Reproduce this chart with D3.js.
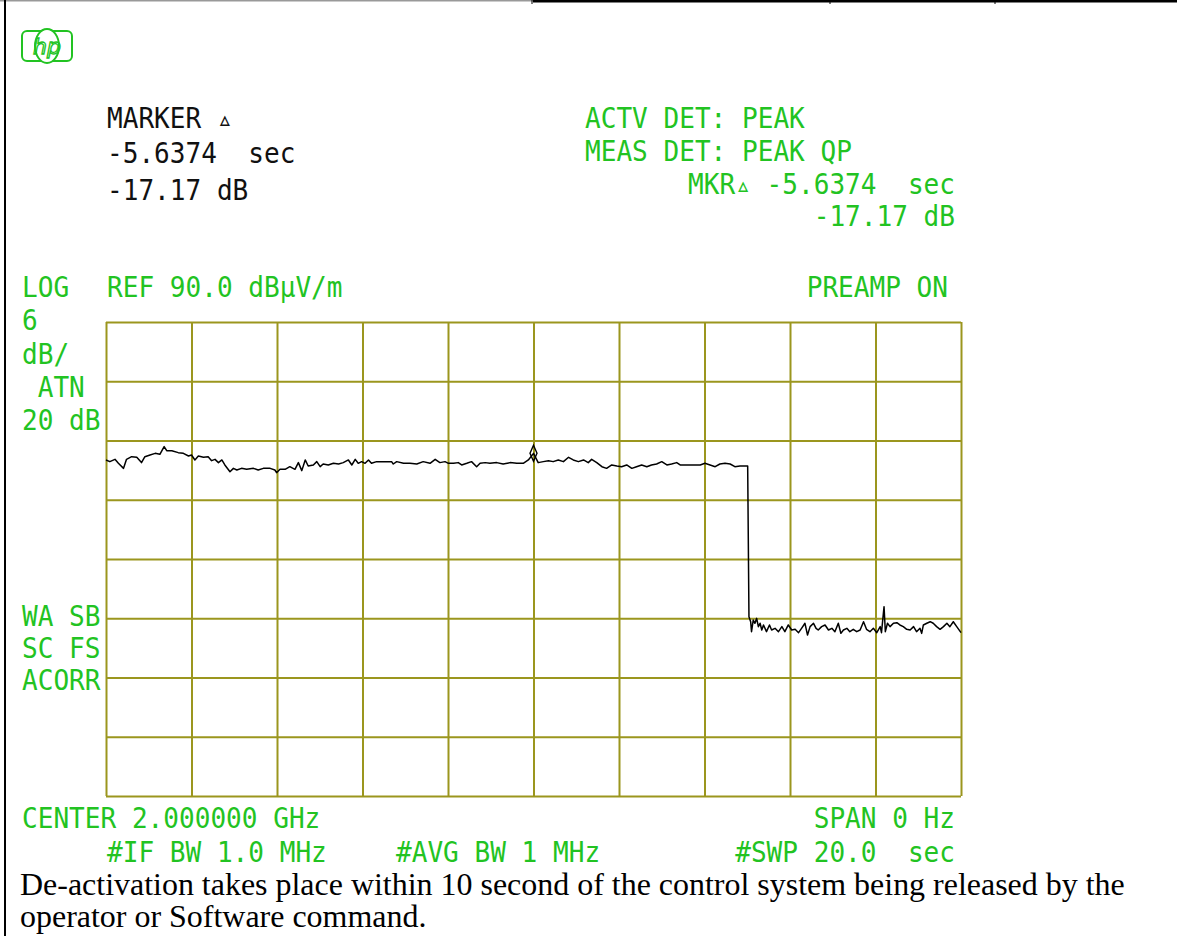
<!DOCTYPE html>
<html>
<head>
<meta charset="utf-8">
<script src="https://cdn.jsdelivr.net/npm/d3@7"></script>
<style>
  body { margin: 0; background: #fff; }
  svg text { white-space: pre; }
</style>
</head>
<body>
<div id="chart"></div>
<script>
// Sweep settings (0 Hz span, 20 s sweep, 90 dBuV/m ref, 6 dB/div, 8 divs)
const SWEEP_TIME = 20;
const REF_LEVEL = 90;
const DB_PER_DIV = 6;
const Y_DIVS = 8;
const X_DIVS = 10;

// Trace before release [time s, level dBuV/m]
const activeTrace = [
  [0,76.03],[0.09,75.86],[0.21,76.09],[0.29,75.69],[0.41,75.18],[0.48,76.09],[0.60,76.36],[0.72,76.30],
  [0.83,75.76],[0.91,76.36],[1.03,76.53],[1.15,76.70],[1.26,76.60],[1.36,77.38],[1.42,76.97],[1.54,76.97],
  [1.69,76.77],[1.81,76.70],[1.93,76.43],[2.00,76.53],[2.08,76.03],[2.16,76.43],[2.28,76.30],[2.39,76.36],
  [2.47,75.96],[2.55,76.09],[2.63,75.76],[2.71,76.03],[2.78,75.52],[2.90,74.84],[2.98,75.18],[3.06,75.01],
  [3.17,75.18],[3.29,75.08],[3.45,75.18],[3.56,75.01],[3.68,75.18],[3.84,75.18],[3.95,75.01],[3.99,74.74],
  [4.07,75.08],[4.19,75.08],[4.30,75.35],[4.42,75.08],[4.50,75.76],[4.58,74.95],[4.66,76.03],[4.73,75.42],
  [4.85,75.52],[4.93,75.86],[5.01,75.35],[5.08,75.62],[5.20,75.52],[5.32,75.69],[5.44,75.62],[5.55,75.76],
  [5.67,76.03],[5.75,75.52],[5.83,76.09],[5.90,75.69],[5.98,75.86],[6.06,75.69],[6.14,76.03],[6.21,75.69],
  [6.33,75.86],[6.49,75.86],[6.68,75.86],[6.72,75.62],[6.80,75.86],[6.96,75.69],[7.11,75.69],[7.27,75.62],
  [7.42,75.86],[7.58,75.69],[7.70,76.09],[7.81,75.76],[7.93,75.86],[8.01,75.69],[8.13,75.69],[8.24,75.76],
  [8.32,75.52],[8.44,75.69],[8.55,75.86],[8.67,75.35],[8.75,75.69],[8.87,75.76],[8.98,75.69],[9.14,75.76],
  [9.29,75.62],[9.45,75.76],[9.61,75.69],[9.76,75.69],[9.88,76.03],[10.00,76.70],
  [10.11,75.76],[10.23,75.86],[10.35,75.96],[10.46,75.86],[10.58,76.03],[10.70,75.86],[10.82,76.30],[10.93,76.03],
  [11.05,75.86],[11.17,76.03],[11.28,75.76],[11.36,76.09],[11.48,75.76],[11.60,75.35],[11.71,75.18],[11.83,75.52],
  [11.95,75.42],[12.06,75.35],[12.18,75.52],[12.30,75.18],[12.41,75.35],[12.53,75.52],[12.65,75.35],[12.76,75.52],
  [12.88,75.62],[13.00,75.86],[13.12,75.52],[13.23,75.62],[13.35,75.76],[13.43,75.52],[13.58,75.52],[13.74,75.52],
  [13.90,75.52],[14.01,75.69],[14.13,75.52],[14.25,75.35],[14.36,75.62],[14.48,75.69],[14.60,75.62],[14.71,75.35],
  [14.83,75.42],[15.01,75.42]
];

// Trace after release [time s, level dBuV/m]
const releasedTrace = [
  [15.04,60.16],[15.08,59.65],[15.10,58.64],[15.14,59.82],[15.18,59.49],[15.22,59.99],[15.26,59.15],[15.30,59.49],
  [15.34,58.81],[15.38,59.32],[15.45,58.64],[15.52,59.32],[15.57,58.81],[15.65,58.98],[15.73,58.64],[15.81,59.15],
  [15.88,58.64],[15.96,59.32],[16.04,58.81],[16.12,58.88],[16.20,58.54],[16.27,58.98],[16.35,59.49],[16.41,58.30],
  [16.47,59.15],[16.55,59.49],[16.61,58.98],[16.66,58.81],[16.74,59.15],[16.82,59.32],[16.90,58.81],[16.98,58.98],
  [17.05,58.64],[17.13,59.49],[17.19,58.47],[17.25,58.81],[17.33,58.98],[17.40,58.64],[17.48,58.88],[17.56,58.64],
  [17.64,58.81],[17.72,59.65],[17.79,58.88],[17.87,58.64],[17.95,58.98],[18.03,58.54],[18.11,59.15],[18.14,58.54],
  [18.20,61.17],[18.23,58.64],[18.28,59.49],[18.34,59.15],[18.42,59.49],[18.50,59.55],[18.57,59.32],[18.65,59.15],
  [18.73,58.88],[18.81,58.81],[18.89,59.15],[18.96,58.64],[19.04,58.98],[19.08,58.47],[19.12,59.32],[19.20,59.49],
  [19.28,59.65],[19.35,59.49],[19.43,59.15],[19.51,58.88],[19.59,59.15],[19.67,59.49],[19.74,59.15],[19.82,59.65],
  [19.90,59.15],[20.00,58.54]
];

const markerTime = 10.0;
const markerLevel = 76.7;

// Screen annotations
const markerLines = ['MARKER \u25B5', '-5.6374  sec', '-17.17 dB'];
const detectorLines = ['ACTV DET: PEAK', 'MEAS DET: PEAK QP'];
const deltaLines = ['MKR\u25B5 -5.6374  sec', '-17.17 dB'];
const scaleLabels = ['LOG', '6', 'dB/', ' ATN', '20 dB'];
const modeLabels = ['WA SB', 'SC FS', 'ACORR'];
const refLabel = 'REF 90.0 dB\u00B5V/m';
const preampLabel = 'PREAMP ON';
const centerLabel = 'CENTER 2.000000 GHz';
const spanLabel = 'SPAN 0 Hz';
const bwLabels = ['#IF BW 1.0 MHz', '#AVG BW 1 MHz'];
const sweepLabel = '#SWP 20.0  sec';
const captionLines = [
  'De-activation takes place within 10 second of the control system being released by the',
  'operator or Software command.'
];

const GREEN = '#22c322';
const GRID = '#9b961e';
const ADV = 15.7;      // character cell width
const FONT_SIZE = 27.5;

const W = 1177, H = 936;
const plot = { left: 106, right: 961, top: 322, bottom: 796 };

const svg = d3.select('#chart')
  .append('svg')
  .attr('width', W)
  .attr('height', H)
  .style('display', 'block');

svg.append('rect').attr('width', W).attr('height', H).attr('fill', '#fff');

// Page frame (table cell borders)
svg.append('line').attr('x1', 0).attr('x2', 533).attr('y1', 0.7).attr('y2', 0.7)
  .attr('stroke', '#999').attr('stroke-width', 1.4);
svg.append('line').attr('x1', 533).attr('x2', W).attr('y1', 1.3).attr('y2', 1.3)
  .attr('stroke', '#000').attr('stroke-width', 2.6);
[532, 830, 995].forEach(x => {
  svg.append('line').attr('x1', x).attr('x2', x).attr('y1', 0).attr('y2', 4)
    .attr('stroke', '#000').attr('stroke-width', 1);
});
svg.append('line').attr('x1', 5).attr('x2', 5).attr('y1', 0).attr('y2', H)
  .attr('stroke', '#000').attr('stroke-width', 2);

// Scales
const xScale = d3.scaleLinear()
  .domain([0, SWEEP_TIME])
  .range([plot.left, plot.right]);

const yScale = d3.scaleLinear()
  .domain([REF_LEVEL - DB_PER_DIV * Y_DIVS, REF_LEVEL])
  .range([plot.bottom, plot.top]);

// Graticule
const xGrid = svg.append('g')
  .attr('transform', `translate(0,${plot.bottom})`)
  .call(d3.axisBottom(xScale)
    .tickValues(d3.range(0, SWEEP_TIME + 0.01, SWEEP_TIME / X_DIVS))
    .tickSize(-(plot.bottom - plot.top))
    .tickFormat(''));

const yGrid = svg.append('g')
  .attr('transform', `translate(${plot.left},0)`)
  .call(d3.axisLeft(yScale)
    .tickValues(d3.range(REF_LEVEL - DB_PER_DIV * Y_DIVS, REF_LEVEL + 0.01, DB_PER_DIV))
    .tickSize(-(plot.right - plot.left))
    .tickFormat(''));

[xGrid, yGrid].forEach(g => {
  g.select('.domain').remove();
  g.selectAll('.tick line').attr('stroke', GRID).attr('stroke-width', 2);
});

// Trace
const line = d3.line()
  .x(d => xScale(d[0]))
  .y(d => yScale(d[1]));

svg.append('path')
  .datum(activeTrace.concat(releasedTrace))
  .attr('fill', 'none')
  .attr('stroke', '#000')
  .attr('stroke-width', 1.5)
  .attr('stroke-linejoin', 'round')
  .attr('d', line);

// Marker diamond
const mx = xScale(markerTime), my = yScale(markerLevel);
svg.append('path')
  .attr('d', `M${mx},${my - 8}L${mx + 3.5},${my}L${mx},${my + 8}L${mx - 3.5},${my}Z`)
  .attr('fill', 'none')
  .attr('stroke', '#000')
  .attr('stroke-width', 1.4);

// Monospaced instrument text
function label(str, x, y, anchor = 'start', color = GREEN) {
  const n = Array.from(str).length;
  return svg.append('text')
    .attr('x', x)
    .attr('y', y)
    .attr('text-anchor', anchor)
    .attr('font-family', '"DejaVu Sans Mono", monospace')
    .attr('font-size', FONT_SIZE)
    .attr('fill', color)
    .attr('textLength', n * ADV)
    .attr('lengthAdjust', 'spacingAndGlyphs')
    .attr('xml:space', 'preserve')
    .text(str);
}

// Marker readout (black)
[128, 163, 200].forEach((y, i) => label(markerLines[i], 107, y, 'start', '#111'));

// Detector / delta readout
label(detectorLines[0], 585, 128);
label(detectorLines[1], 585, 161);
label(deltaLines[0], 955, 194, 'end');
label(deltaLines[1], 955, 226, 'end');

// Left side labels
scaleLabels.forEach((s, i) => label(s, 22, 297 + i * 33.3));
modeLabels.forEach((s, i) => label(s, 22, 626 + i * 32));

label(refLabel, 107, 297);
label(preampLabel, 948, 297, 'end');

// Bottom annotations
label(centerLabel, 22, 828);
label(spanLabel, 955, 828, 'end');
label(bwLabels[0], 107, 862);
label(bwLabels[1], 396, 862);
label(sweepLabel, 955, 862, 'end');

// HP logo
const logo = svg.append('g').attr('transform', 'translate(21,30)');
logo.append('rect')
  .attr('x', 1).attr('y', 1).attr('width', 50).attr('height', 30).attr('rx', 5)
  .attr('fill', 'none').attr('stroke', GREEN).attr('stroke-width', 2);
logo.append('ellipse')
  .attr('cx', 26).attr('cy', 16).attr('rx', 12).attr('ry', 17)
  .attr('fill', '#fff').attr('stroke', GREEN).attr('stroke-width', 2);
logo.append('text')
  .attr('x', 26).attr('y', 24)
  .attr('text-anchor', 'middle')
  .attr('font-family', '"DejaVu Sans", sans-serif')
  .attr('font-style', 'italic')
  .attr('font-size', 22)
  .attr('fill', 'none')
  .attr('stroke', GREEN)
  .attr('stroke-width', 1.3)
  .text('hp');

// Caption below the screenshot
const caption = svg.append('g')
  .attr('font-family', '"Liberation Serif", "Times New Roman", serif')
  .attr('fill', '#000');
const cap1 = caption.append('text').attr('x', 20).attr('y', 895)
  .attr('font-size', 24).text(captionLines[0]);
const fitSize = 24 * 1105 / cap1.node().getComputedTextLength();
cap1.attr('font-size', fitSize);
caption.append('text').attr('x', 20).attr('y', 927)
  .attr('font-size', fitSize).text(captionLines[1]);
</script>
</body>
</html>
